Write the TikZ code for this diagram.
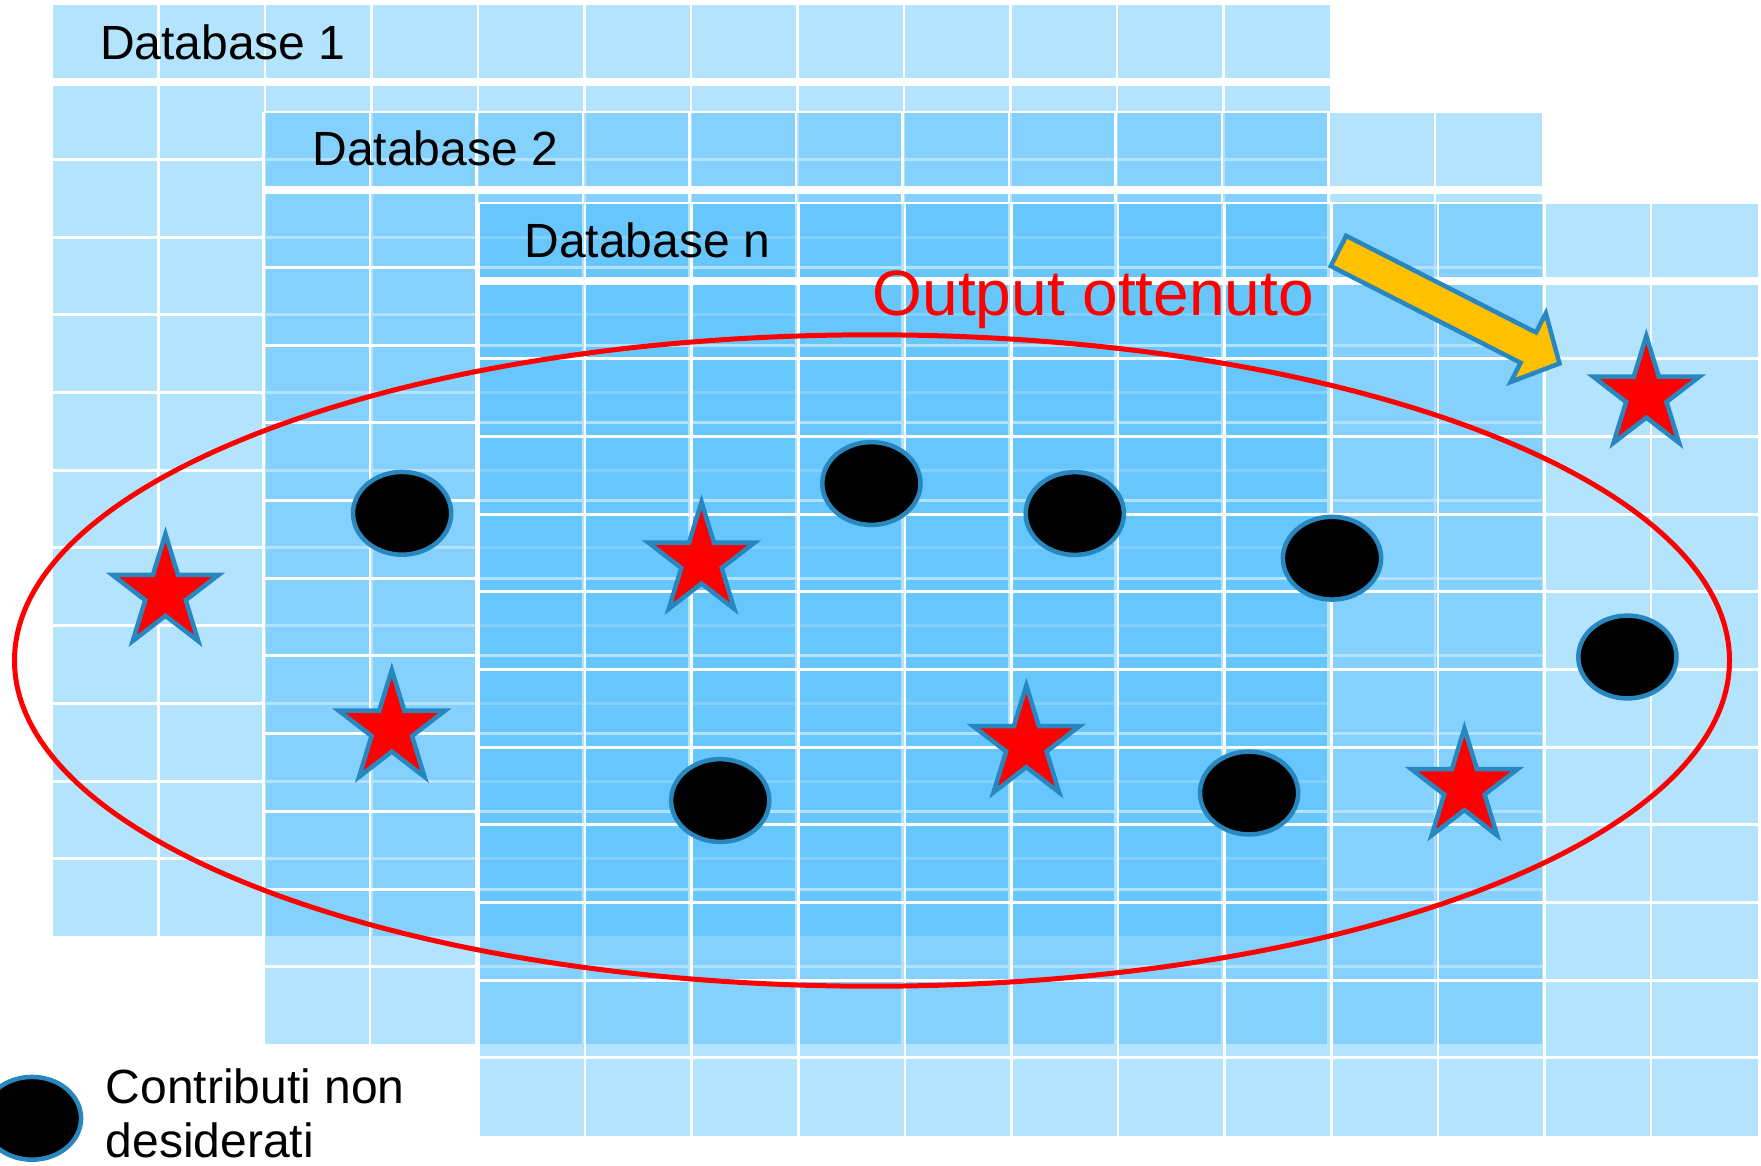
\documentclass[tikz,border=0pt]{standalone}
\usepackage{fontspec}
\setmainfont{Liberation Sans}
\usetikzlibrary{shapes.geometric}
\definecolor{tabblue}{RGB}{55,181,251}
\definecolor{edgeblue}{RGB}{40,135,190}
\definecolor{arrowyellow}{RGB}{255,192,0}
\newcommand\dbtable[3]{%
  \fill[cellfill] (#1,#2) rectangle ++({12*#3},932.4);
  \foreach \k in {0,...,11} \draw[gridline] ({#1+\k*#3},#2) -- ++(0,932.4);
  \draw[gridline] (#1,#2) -- ++({12*#3},0);
  \draw[headline] (#1,{#2+77.7}) -- ++({12*#3},0);
  \foreach \k in {2,...,11} \draw[hline] (#1,{#2+\k*77.7}) -- ++({12*#3},0);
}
\begin{document}
\begin{tikzpicture}[x=1pt,y=-1pt,
  cellfill/.style={fill=tabblue, fill opacity=0.38},
  gridline/.style={draw=white, line width=2.5pt},
  hline/.style={draw=white, line width=3pt},
  headline/.style={draw=white, line width=7.7pt},
  dblabel/.style={font=\fontsize{48}{54}\selectfont, anchor=base west, inner sep=0pt},
  marker/.style={ellipse, fill=black, draw=edgeblue, line width=4.5pt, minimum width=98.2pt, minimum height=82.8pt, inner sep=0pt},
  starmark/.style={star, star points=5, star point ratio=2.618, fill=red, draw=edgeblue, line width=4.5pt, minimum size=118.2pt, inner sep=0pt, xscale=0.9425},
  outring/.style={ellipse, draw=red, line width=5pt, minimum width=1715pt, minimum height=651.4pt, inner sep=0pt},
  arrowshape/.style={fill=arrowyellow, draw=edgeblue, line width=4.5pt},
]
\useasboundingbox (0,0) rectangle (1761,1165);
\clip (0,0) rectangle (1761,1165);

% tables
\dbtable{52}{4}{106.5}
\node[dblabel] (db1) at (100,59) {Database 1};
\dbtable{263.5}{112}{106.5}
\node[dblabel] (db2) at (312.3,165.7) {Database 2};
\dbtable{478.5}{203.2}{106.6}
\node[dblabel] (dbn) at (524.3,257.3) {Database n};

% output ellipse
\node[outring] (output) at (872,660.5) {};

% stars
\node[starmark] (s1) at (165.5,593.2) {};
\node[starmark] (s2) at (391.8,729) {};
\node[starmark] (s3) at (701.5,561) {};
\node[starmark] (s4) at (1026.3,744.5) {};
\node[starmark] (s5) at (1464.4,787.5) {};
\node[starmark] (s6) at (1646.3,395) {};

% black markers
\node[marker] (c1) at (402.1,513.3) {};
\node[marker] (c2) at (871.4,483.5) {};
\node[marker] (c3) at (1074.8,513.5) {};
\node[marker] (c4) at (1332,558.2) {};
\node[marker] (c5) at (1627.4,657) {};
\node[marker] (c6) at (720.2,800.5) {};
\node[marker] (c7) at (1249.1,793) {};

% arrow
\begin{scope}[shift={(1336.7,250)}, rotate=-27]
  \filldraw[arrowshape] (2,-17) -- (215,-17) -- (215,-38.5) -- (250,0) -- (215,38.5) -- (215,17) -- (2,17) -- cycle;
\end{scope}

% label
\node[anchor=base west, inner sep=0pt, text=red, font=\fontsize{64}{70}\selectfont] (outlabel) at (872.5,315.9) {Output ottenuto};

% legend
\node[marker] (legmark) at (32,1118.3) {};
\node[dblabel] (leg1) at (105.5,1103.3) {Contributi non};
\node[dblabel] (leg2) at (105.5,1157.5) {desiderati};
\end{tikzpicture}
\end{document}
